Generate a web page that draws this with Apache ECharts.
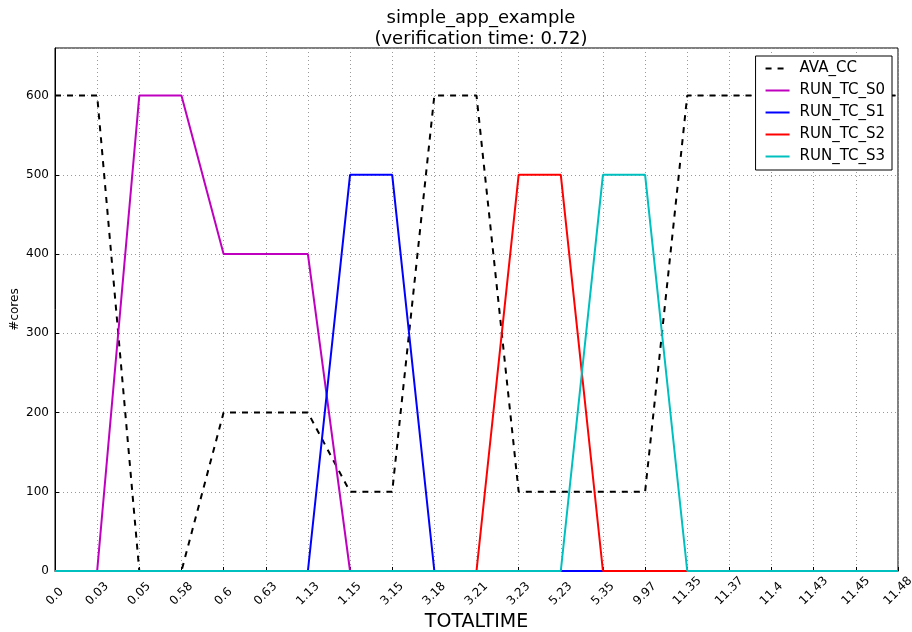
<!DOCTYPE html>
<html><head><meta charset="utf-8">
<script src="https://cdn.jsdelivr.net/npm/echarts@6/dist/echarts.min.js"></script>
<style>html,body{margin:0;padding:0;background:#fff}#c{width:912px;height:632px}</style>
</head><body><div id="c"></div>
<script>
const categories = ['0.0','0.03','0.05','0.58','0.6','0.63','1.13','1.15','3.15','3.18','3.21','3.23','5.23','5.35','9.97','11.35','11.37','11.4','11.43','11.45','11.48'];
const AVA_CC =    [600,600,0,0,200,200,200,100,100,600,600,100,100,100,100,600,600,600,600,600,600];
const RUN_TC_S0 = [0,0,600,600,400,400,400,0,0,0,0,0,0,0,0,0,0,0,0,0,0];
const RUN_TC_S1 = [0,0,0,0,0,0,0,500,500,0,0,0,0,0,0,0,0,0,0,0,0];
const RUN_TC_S2 = [0,0,0,0,0,0,0,0,0,0,0,500,500,0,0,0,0,0,0,0,0];
const RUN_TC_S3 = [0,0,0,0,0,0,0,0,0,0,0,0,0,500,500,0,0,0,0,0,0];

const font = 'DejaVu Sans';
function mk(name, data, color, type) {
  return {name, type:'line', data, showSymbol:false, symbol:'none', animation:false,
    lineStyle:{color, width:2, type: type || 'solid'}, itemStyle:{color}};
}
// rotated tick labels centred on their tick with a common top edge (matplotlib style)
const rich = {};
for (let n = 0; n <= 3; n++) {
  const p = Math.round(3.8 * n);
  rich['p' + n] = {fontFamily:font, fontSize:12, color:'#000', padding:[p, p, 0, 0]};
}
const chart = echarts.init(document.getElementById('c'));
chart.setOption({
  animation:false,
  textStyle:{fontFamily:font},
  title:{text:'simple_app_example\n(verification time: 0.72)', left:476, textAlign:'center', top:3,
    textStyle:{fontFamily:font, fontSize:18, fontWeight:'normal', color:'#000', lineHeight:21}},
  grid:{left:55, right:14, top:48, bottom:61, show:true, borderColor:'#000', borderWidth:1, containLabel:false, outerBoundsMode:'none'},
  legend:{orient:'vertical', right:20, top:56, backgroundColor:'#fff', borderColor:'#000', borderWidth:1,
    padding:[5,7,6,9], itemGap:7, itemWidth:24, itemHeight:16,
    itemStyle:{opacity:0},
    textStyle:{fontFamily:font, fontSize:15, color:'#000', padding:[0,0,0,5]},
    data:['AVA_CC','RUN_TC_S0','RUN_TC_S1','RUN_TC_S2','RUN_TC_S3']},
  xAxis:{type:'category', data:categories, boundaryGap:false,
    name:'TOTALTIME', nameLocation:'middle', nameGap:42, nameMoveOverlap:false,
    nameTextStyle:{fontFamily:font, fontSize:19, color:'#000'},
    axisLine:{show:true, lineStyle:{color:'#000'}},
    axisTick:{show:true, inside:true, length:4, alignWithLabel:true, lineStyle:{color:'#000'}},
    axisLabel:{rotate:45, align:'center', verticalAlign:'middle', fontFamily:font, fontSize:12, color:'#000', interval:0, margin:20,
      formatter: v => '{p' + Math.max(0, 5 - v.length) + '|' + v + '}', rich},
    splitLine:{show:true, lineStyle:{color:'#999', type:[1,3], width:1}}},
  yAxis:{type:'value', min:0, max:660, interval:100,
    name:'#cores', nameLocation:'middle', nameGap:34, nameMoveOverlap:false, nameRotate:90,
    nameTextStyle:{fontFamily:font, fontSize:12, color:'#000'},
    axisLine:{show:true, lineStyle:{color:'#000'}},
    axisTick:{show:true, inside:true, length:4, lineStyle:{color:'#000'}},
    axisLabel:{fontFamily:font, fontSize:12, color:'#000', showMaxLabel:false, margin:6},
    splitLine:{show:true, lineStyle:{color:'#999', type:[1,3], width:1}}},
  series:[
    mk('AVA_CC', AVA_CC, '#000000', [6,6]),
    mk('RUN_TC_S0', RUN_TC_S0, '#bf00bf'),
    mk('RUN_TC_S1', RUN_TC_S1, '#0000ff'),
    mk('RUN_TC_S2', RUN_TC_S2, '#ff0000'),
    mk('RUN_TC_S3', RUN_TC_S3, '#00bfbf')
  ]
});
</script></body></html>
